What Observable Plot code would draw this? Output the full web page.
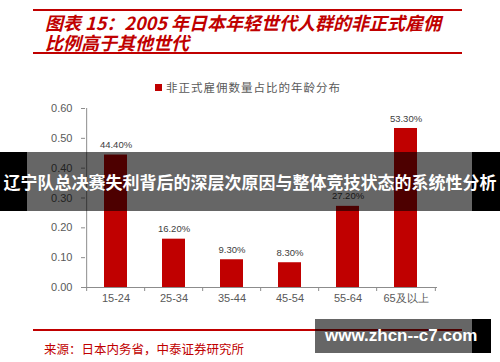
<!DOCTYPE html>
<html><head><meta charset="utf-8">
<script src="https://cdn.jsdelivr.net/npm/d3@7"></script>
<script src="https://cdn.jsdelivr.net/npm/@observablehq/plot@0.6"></script>
<style>
body{margin:0;background:#fff;}
#wrap{position:relative;width:500px;height:362px;overflow:hidden;background:#fff;font-family:"Noto Sans CJK SC",sans-serif;}
.rule{position:absolute;left:33px;width:429px;height:2px;background:#c00000;}
#title{position:absolute;left:45px;top:12px;font-size:18px;line-height:20px;font-weight:bold;font-style:italic;color:#c00000;white-space:nowrap;}
#legend{position:absolute;left:155px;top:80px;height:14px;font-size:11.5px;line-height:14px;color:#595959;white-space:nowrap;letter-spacing:1px;}
#legend .sw{display:inline-block;width:7px;height:7px;background:#c00000;margin-right:4px;vertical-align:middle;position:relative;top:-1px;}
#chart{position:absolute;left:0;top:70px;}
#source{position:absolute;left:44px;top:341px;font-size:12.5px;line-height:16px;color:#c00000;white-space:nowrap;}
#banner{position:absolute;left:0;top:152px;width:500px;height:59px;background:rgba(0,0,0,0.6);}
#banner .bl{position:absolute;left:0;top:0;width:27px;height:59px;background:#000;}
#banner .br{position:absolute;right:0;top:0;width:28px;height:59px;background:#000;}
#banner .t{position:absolute;left:0;width:500px;top:0;height:59px;line-height:59px;text-align:center;color:#fff;font-weight:bold;font-size:17px;white-space:nowrap;}
#wm{position:absolute;left:315px;top:319px;width:157px;height:34px;background:rgba(0,0,0,0.6);}
#wm2{position:absolute;left:472px;top:319px;width:19px;height:34px;background:#000;}
#wmt{position:absolute;left:325px;top:319px;height:34px;line-height:34px;color:#fff;font-weight:bold;font-size:17px;font-family:"Liberation Sans",Arial,sans-serif;white-space:nowrap;}
</style></head>
<body>
<div id="wrap">
  <div class="rule" style="top:9px"></div>
  <div id="title">图表 15：2005 年日本年轻世代人群的非正式雇佣<br>比例高于其他世代</div>
  <div class="rule" style="top:52px"></div>
  <div id="legend"><span class="sw"></span>非正式雇佣数量占比的年龄分布</div>
  <div id="chart"></div>
  <div class="rule" style="top:329px"></div>
  <div id="source">来源：日本内务省，中泰证券研究所</div>
  <div id="banner"><div class="bl"></div><div class="br"></div><div class="t">辽宁队总决赛失利背后的深层次原因与整体竞技状态的系统性分析</div></div>
  <div id="wm"></div><div id="wm2"></div>
  <div id="wmt">www.zhcn--c7.com</div>
</div>
<script>
const categories = ["15-24","25-34","35-44","45-54","55-64","65及以上"];
const shares = [0.444,0.162,0.093,0.083,0.272,0.533];
const valueLabels = ["44.40%","16.20%","9.30%","8.30%","27.20%","53.30%"];
const yTicks = [0,0.1,0.2,0.3,0.4,0.5,0.6];

const data = categories.map((c,i)=>({c, v:shares[i], label:valueLabels[i]}));
const W=500,H=250,mL=85,mR=63,mT=38,mB=33;
const step=(W-mL-mR)/categories.length;
const axisColor="#8c8c8c";
const chart = Plot.plot({
  width:W,height:H,marginLeft:mL,marginRight:mR,marginTop:mT,marginBottom:mB,
  style:{fontFamily:"'Liberation Sans', Arial, sans-serif",fontSize:"11px",color:"#595959",background:"transparent"},
  x:{domain:categories,paddingInner:0.6,paddingOuter:0.3,label:null},
  y:{domain:[0,0.6],label:null},
  marks:[
    Plot.barY(data,{x:"c",y:"v",fill:"#c00000"}),
    Plot.text(data,{x:"c",y:"v",text:"label",dy:-10,fontSize:9.5,fill:"#404040"}),
    Plot.ruleY([0],{stroke:axisColor}),
    Plot.ruleX([categories[0]],{dx:-step/2,y1:0,y2:0.6,stroke:axisColor}),
    Plot.axisY({ticks:yTicks,tickFormat:d3.format(".2f"),tickSize:4,tickPadding:9,stroke:axisColor,fill:"#595959",label:null}),
    Plot.axisX({tickSize:4,tickFormat:()=>"",dx:-step/2,stroke:axisColor,label:null}),
    Plot.axisX({ticks:[categories[categories.length-1]],tickSize:4,tickFormat:()=>"",dx:step/2,stroke:axisColor,label:null}),
    Plot.axisX({tickSize:0,tickPadding:7,fill:"#595959",label:null})
  ]
});
document.getElementById("chart").appendChild(chart);
</script>
</body></html>
